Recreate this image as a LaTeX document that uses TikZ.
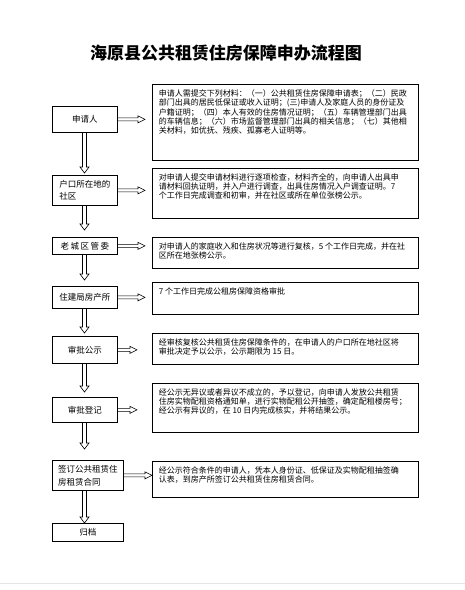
\documentclass[tikz,border=0pt]{standalone}
\usepackage{fontspec}
\setmainfont{Noto Sans CJK SC}
\usetikzlibrary{calc}

\tikzset{
  stage/.style={draw, line width=0.7pt, anchor=north west, minimum width=65pt,
    inner xsep=5pt, inner ysep=2pt, align=left, font=\fontsize{8.5}{12.5}\selectfont},
  note/.style={draw, line width=0.7pt, anchor=north west, inner xsep=6.5pt,
    inner ysep=5pt, font=\fontsize{8}{9.4}\selectfont},
  flow/.style={draw, line width=0.6pt, line join=miter},
}
% text of a right-hand box, top aligned
\newcommand{\notetext}[2]{\parbox[t][#1][t]{253pt}{#2}}
% hollow arrow to the right, #1 = gap before the target box
\newcommand{\hflow}[3][7]{%
  \draw[flow] let \p1=(#2.east), \p2=(#3.west) in
    (\x1,\y1+1.5pt) -- (\x2-#1pt-7pt,\y1+1.5pt) -- (\x2-#1pt-7pt,\y1+3.5pt)
    -- (\x2-#1pt,\y1) -- (\x2-#1pt-7pt,\y1-3.5pt) -- (\x2-#1pt-7pt,\y1-1.5pt)
    -- (\x1,\y1-1.5pt);}
% hollow arrow downwards, #1 = gap before the target box
\newcommand{\vflow}[3][5]{%
  \draw[flow] let \p1=(col |- #2.south), \p2=(col |- #3.north) in
    (\x1-2pt,\y1) -- (\x1-2pt,\y2+#1pt+6pt) -- (\x1-4.5pt,\y2+#1pt+6pt)
    -- (\x1,\y2+#1pt) -- (\x1+4.5pt,\y2+#1pt+6pt) -- (\x1+2pt,\y2+#1pt+6pt)
    -- (\x1+2pt,\y1);}

\begin{document}
\begin{tikzpicture}[x=1pt,y=-1pt]
  \useasboundingbox (0,0) rectangle (465,590);
  \coordinate (col) at (84.5,0);

  \node[font=\fontsize{17}{20}\bfseries] (title) at (226,53) {海原县公共租赁住房保障申办流程图};

  % left column: the steps
  \node[stage, minimum height=26pt] (app) at (52,106) {申请人};
  \node[stage, minimum height=30pt] (hk) at (52,175) {户口所在地的\\社区};
  \node[stage, minimum height=17pt] (lc) at (52,237) {老\hspace{1.5pt}城\hspace{1.5pt}区\hspace{1.5pt}管\hspace{1.5pt}委};
  \node[stage, minimum height=22pt] (zj) at (52,286) {住建局房产所};
  \node[stage, minimum height=27pt] (gs) at (52,336) {审批公示};
  \node[stage, minimum height=25pt] (dj) at (52,397) {审批登记};
  \node[stage, minimum width=71pt, minimum height=30pt, font=\fontsize{8.5}{13}\selectfont] (qd) at (52,460) {签订公共租赁住\\房租赁合同};
  \node[stage, minimum width=71pt, minimum height=18pt] (gd) at (52,523) {归档};

  % right column: what is done at each step
  \node[note] (r1) at (152,84) {\notetext{66pt}{%
    申请人需提交下列材料：（一）公共租赁住房保障申请表；（二）民政\\
    部门出具的居民低保证或收入证明；(三)申请人及家庭人员的身份证及\\
    户籍证明；（四）本人有效的住房情况证明；（五）车辆管理部门出具\\
    的车辆信息；（六）市场监督管理部门出具的相关信息；（七）其他相\\
    关材料，如优抚、残疾、孤寡老人证明等。}};
  \node[note] (r2) at (152,168) {\notetext{40pt}{%
    对申请人提交申请材料进行逐项检查，材料齐全的，向申请人出具申\\
    请材料回执证明，并入户进行调查，出具住房情况入户调查证明。7\\
    个工作日完成调查和初审，并在社区或所在单位张榜公示。}};
  \node[note] (r3) at (152,237) {\notetext{21pt}{%
    对申请人的家庭收入和住房状况等进行复核，5 个工作日完成，并在社\\
    区所在地张榜公示。}};
  \node[note] (r4) at (152,282) {\notetext{22pt}{%
    7 个工作日完成公租房保障资格审批}};
  \node[note] (r5) at (152,333) {\notetext{21pt}{%
    经审核复核公共租赁住房保障条件的，在申请人的户口所在地社区将\\
    审批决定予以公示，公示期限为 15 日。}};
  \node[note] (r6) at (152,383) {\notetext{39pt}{%
    经公示无异议或者异议不成立的，予以登记，向申请人发放公共租赁\\
    住房实物配租资格通知单，进行实物配租公开抽签，确定配租楼房号；\\
    经公示有异议的，在 10 日内完成核实，并将结果公示。}};
  \node[note] (r7) at (152,461) {\notetext{26pt}{%
    经公示符合条件的申请人，凭本人身份证、低保证及实物配租抽签确\\
    认表，到房产所签订公共租赁住房租赁合同。}};

  % arrows down the steps
  \vflow[2]{app}{hk}
  \vflow[7]{hk}{lc}
  \vflow[6]{lc}{zj}
  \vflow[3]{zj}{gs}
  \vflow{gs}{dj}
  \vflow[11]{dj}{qd}
  \vflow[0]{qd}{gd}

  % arrows to the notes
  \hflow{app}{r1}
  \hflow{hk}{r2}
  \hflow{lc}{r3}
  \hflow{zj}{r4}
  \hflow[15]{gs}{r5}
  \hflow[15]{dj}{r6}
  \hflow[0]{qd}{r7}

  \draw[gray!20] (0,583) -- (465,583);
\end{tikzpicture}
\end{document}
